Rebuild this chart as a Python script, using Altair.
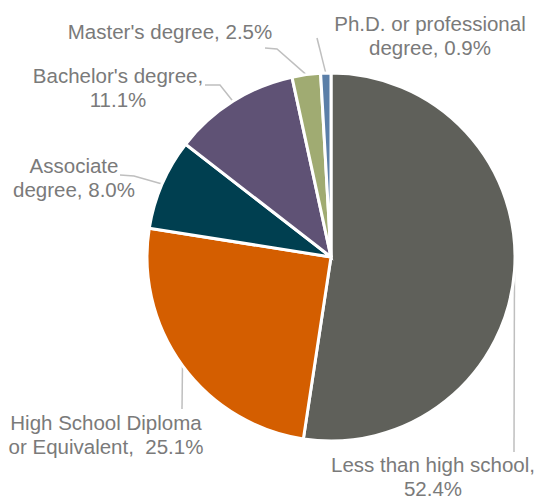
import math
import altair as alt
import pandas as pd

# ---- data ----
categories = [
    "Less than high school",
    "High School Diploma or Equivalent",
    "Associate degree",
    "Bachelor's degree",
    "Master's degree",
    "Ph.D. or professional degree",
]
shares = [52.4, 25.1, 8.0, 11.1, 2.5, 0.9]
label_lines = [
    ["Less than high school,", "52.4%"],
    ["High School Diploma", "or Equivalent,\u00a0 25.1%"],
    ["Associate", "degree, 8.0%"],
    ["Bachelor's degree,", "11.1%"],
    ["Master's degree, 2.5%"],
    ["Ph.D. or professional", "degree, 0.9%"],
]
colors = ["#5f605a", "#d45e00", "#003f50", "#5f5275", "#a0ab72", "#5b7fa8"]

# ---- layout ----
W, H = 542, 498
CX, CY, R = 331, 257, 184
LINE_H = 24
label_pos = [(433, 466), (106, 424), (74, 167), (118, 77), (170, 33), (430, 25)]
leader_pts = [
    [(514, 452)],
    [(182, 409)],
    [(120, 175), (134, 176)],
    [(205, 85), (220, 85)],
    [(265, 48), (277, 49)],
    [(317, 38)],
]

pie_df = pd.DataFrame({"category": categories, "share": shares, "idx": list(range(len(categories)))})

label_rows = []
for i, lines in enumerate(label_lines):
    x0, y0 = label_pos[i]
    for j, t in enumerate(lines):
        label_rows.append({"text": t, "x": x0, "y": y0 + j * LINE_H})
label_df = pd.DataFrame(label_rows)

total = sum(shares)
leader_rows = []
cum = 0.0
for i, v in enumerate(shares):
    a = 2 * math.pi * (cum + v / 2) / total
    cum += v
    ex, ey = CX + R * math.sin(a), CY - R * math.cos(a)
    pts = leader_pts[i] + [(ex, ey)]
    for k, (px, py) in enumerate(pts):
        leader_rows.append({"g": i, "seq": k, "x": px, "y": py})
leader_df = pd.DataFrame(leader_rows)

xs = alt.Scale(domain=[0, W], range=[0, W], nice=False, zero=False)
ys = alt.Scale(domain=[0, H], range=[0, H], nice=False, zero=False)

pie = alt.Chart(pie_df).mark_arc(radius=R, stroke="white", strokeWidth=3).encode(
    theta=alt.Theta("share:Q", stack=True),
    color=alt.Color("category:N", scale=alt.Scale(domain=categories, range=colors), legend=None),
    order=alt.Order("idx:Q"),
    x=alt.value(CX),
    y=alt.value(CY),
)

leaders = alt.Chart(leader_df).mark_line(color="#bfbfbf", strokeWidth=1.5).encode(
    x=alt.X("x:Q", scale=xs, axis=None),
    y=alt.Y("y:Q", scale=ys, axis=None),
    detail="g:N",
    order="seq:Q",
)

labels = alt.Chart(label_df).mark_text(
    font="Liberation Sans", fontSize=20.5, color="#7a7a7a", align="center", baseline="middle"
).encode(
    x=alt.X("x:Q", scale=xs, axis=None),
    y=alt.Y("y:Q", scale=ys, axis=None),
    text="text:N",
)

chart = alt.layer(leaders, pie, labels).properties(
    width=W, height=H, autosize="none", padding=0, background="white"
).configure_view(stroke=None)

chart.save("out.html", embed_options={"renderer": "svg", "actions": False})
